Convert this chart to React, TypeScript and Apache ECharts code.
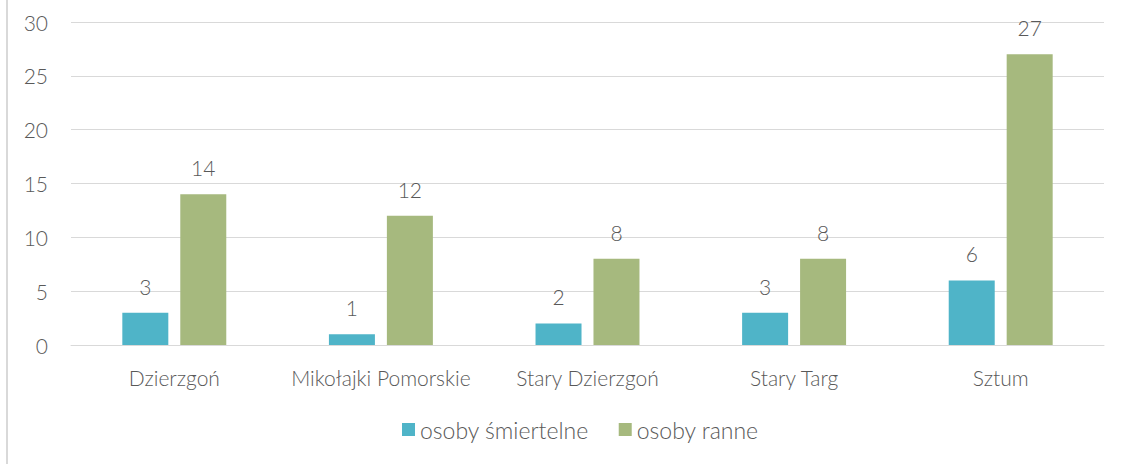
import React, { useEffect, useRef } from "react";
import * as echarts from "echarts";

const categories = ["Dzierzgoń", "Mikołajki Pomorskie", "Stary Dzierzgoń", "Stary Targ", "Sztum"];
const fatal = [3, 1, 2, 3, 6];
const injured = [14, 12, 8, 8, 27];
const seriesNames = ["osoby śmiertelne", "osoby ranne"];

const FONT = "Lato";
const TXT = "#595959";
const FS = 21;
const FW = 300;

export default function App() {
  const ref = useRef<HTMLDivElement>(null);
  useEffect(() => {
    const chart = echarts.init(ref.current!, undefined, { renderer: "svg" });
    chart.setOption({
      animation: false,
      backgroundColor: "#ffffff",
      textStyle: { fontFamily: FONT },
      graphic: [
        { type: "line", shape: { x1: 7, y1: 0, x2: 7, y2: 464 }, style: { stroke: "#d9d9d9", lineWidth: 2 } },
      ],
      grid: { left: 71, right: 26, top: 22, bottom: 119, outerBoundsMode: "none" },
      legend: {
        bottom: 18,
        left: 397,
        itemWidth: 13,
        itemHeight: 13,
        itemGap: 30,
        icon: "rect",
        textStyle: { color: TXT, fontSize: 23, fontFamily: FONT, fontWeight: FW },
        data: seriesNames,
      },
      xAxis: {
        type: "category",
        data: categories,
        axisLine: { lineStyle: { color: "#d9d9d9", width: 1 } },
        axisTick: { show: false },
        axisLabel: { color: TXT, fontSize: FS, fontFamily: FONT, fontWeight: FW, margin: 22, interval: 0 },
      },
      yAxis: {
        type: "value",
        min: 0,
        max: 30,
        interval: 5,
        axisLine: { show: false },
        axisTick: { show: false },
        splitLine: { lineStyle: { color: "#d9d9d9", width: 1 } },
        axisLabel: {
          inside: true,
          margin: -23,
          align: "right",
          color: TXT,
          fontSize: FS,
          fontFamily: FONT,
          fontWeight: FW,
        },
      },
      series: [
        {
          name: seriesNames[0],
          type: "bar",
          data: fatal,
          barWidth: 46,
          barGap: "26%",
          itemStyle: { color: "#4fb4c8" },
          label: { show: true, position: "top", distance: 16, color: TXT, fontSize: FS, fontFamily: FONT, fontWeight: FW },
        },
        {
          name: seriesNames[1],
          type: "bar",
          data: injured,
          barWidth: 46,
          itemStyle: { color: "#a6b97e" },
          label: { show: true, position: "top", distance: 16, color: TXT, fontSize: FS, fontFamily: FONT, fontWeight: FW },
        },
      ],
    });
    return () => chart.dispose();
  }, []);
  return <div ref={ref} style={{ position: "fixed", left: 0, top: 0, width: 1130, height: 464 }} />;
}
